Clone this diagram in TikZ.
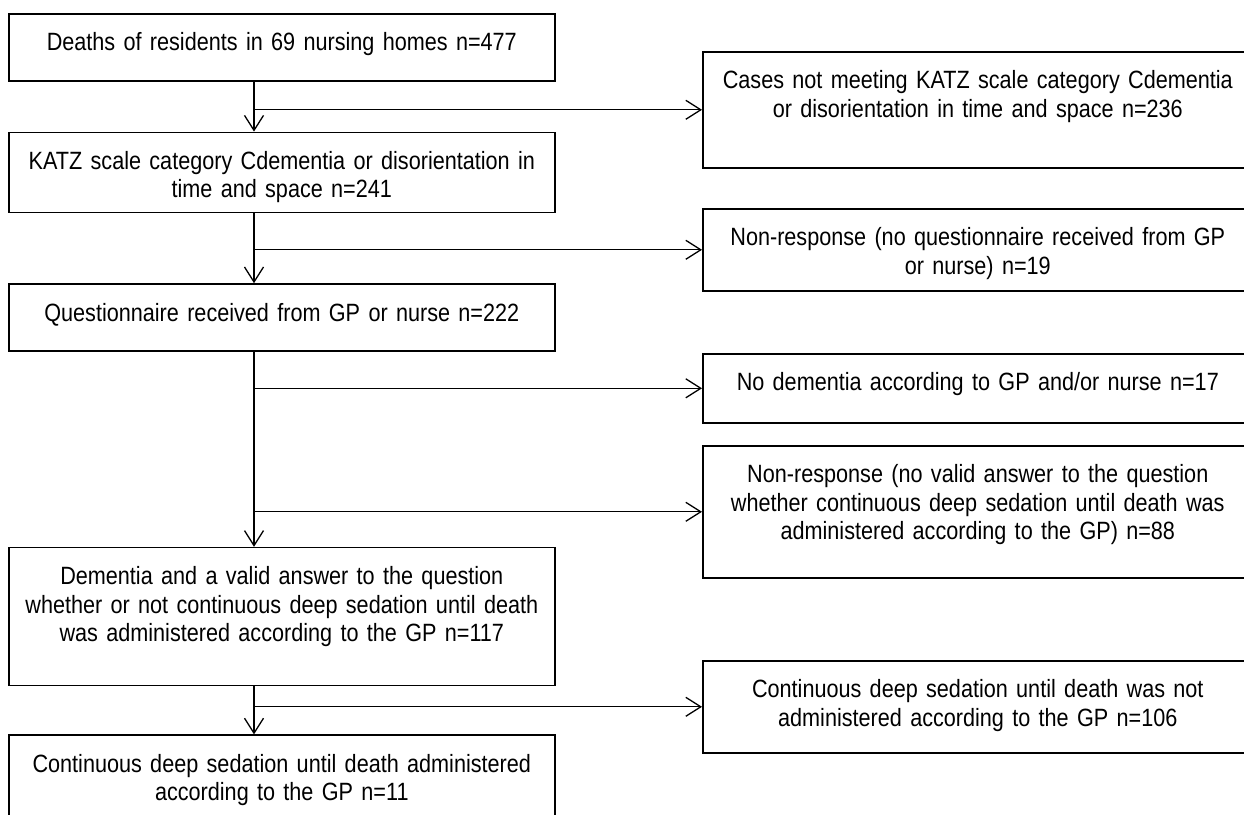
\documentclass[tikz,border=0pt]{standalone}
\usepackage{fontspec}
\setmainfont{Liberation Sans}[FakeStretch=0.865]
\usetikzlibrary{positioning,arrows.meta}

\begin{document}
\begin{tikzpicture}[x=1pt, y=-1pt,
  every node/.style={font=\fontsize{25pt}{28.5pt}\selectfont},
  box/.style={draw, line width=1.6pt, align=center, inner sep=0pt, text height=37pt},
  lbox/.style={box, minimum width=546pt, text width=540pt},
  rbox/.style={box, minimum width=550pt, text width=530pt, anchor=north west},
  arr/.style={line width=1.3pt, -{Straight Barb[length=15pt,width=19pt]}}]
  \useasboundingbox (0,0) rectangle (1244,814);
  \coordinate (trunk) at (254,0);
  % main column
  \node[lbox, text depth=30pt, anchor=north west] (d1) at (8,13) {Deaths of residents in 69 nursing homes n=477};
  \node[lbox, text depth=43pt, below=50pt of d1] (d2) {KATZ scale category Cdementia or disorientation in\\time and space n=241};
  \node[lbox, text depth=30pt, below=70pt of d2] (d3) {Questionnaire received from GP or nurse n=222};
  \node[lbox, text depth=101pt, below=195pt of d3] (d4) {Dementia and a valid answer to the question\\whether or not continuous deep sedation until death\\was administered according to the GP n=117};
  \node[lbox, text depth=53pt, below=48pt of d4] (d5) {Continuous deep sedation until death administered\\according to the GP n=11};
  % excluded cases
  \node[rbox, text depth=79pt] (x1) at (702,51) {Cases not meeting KATZ scale category Cdementia\\or disorientation in time and space n=236};
  \node[rbox, text depth=45pt] (x2) at (702,208) {Non-response (no questionnaire received from GP\\or nurse) n=19};
  \node[rbox, text depth=32pt] (x3) at (702,353) {No dementia according to GP and/or nurse n=17};
  \node[rbox, text depth=95pt] (x4) at (702,445) {Non-response (no valid answer to the question\\whether continuous deep sedation until death was\\administered according to the GP) n=88};
  \node[rbox, text depth=55pt] (x5) at (702,660) {Continuous deep sedation until death was not\\administered according to the GP n=106};
  % arrows
  \draw[arr] (trunk |- d1.south) -- (trunk |- d2.north);
  \draw[arr] (trunk |- d2.south) -- (trunk |- d3.north);
  \draw[arr] (trunk |- d3.south) -- (trunk |- d4.north);
  \draw[arr] (trunk |- d4.south) -- (trunk |- d5.north);
  \draw[arr] (trunk |- x1.west) -- (x1.west);
  \draw[arr] (trunk |- x2.west) -- (x2.west);
  \draw[arr] (trunk |- x3.west) -- (x3.west);
  \draw[arr] (trunk |- x4.west) -- (x4.west);
  \draw[arr] (trunk |- x5.west) -- (x5.west);
\end{tikzpicture}
\end{document}
